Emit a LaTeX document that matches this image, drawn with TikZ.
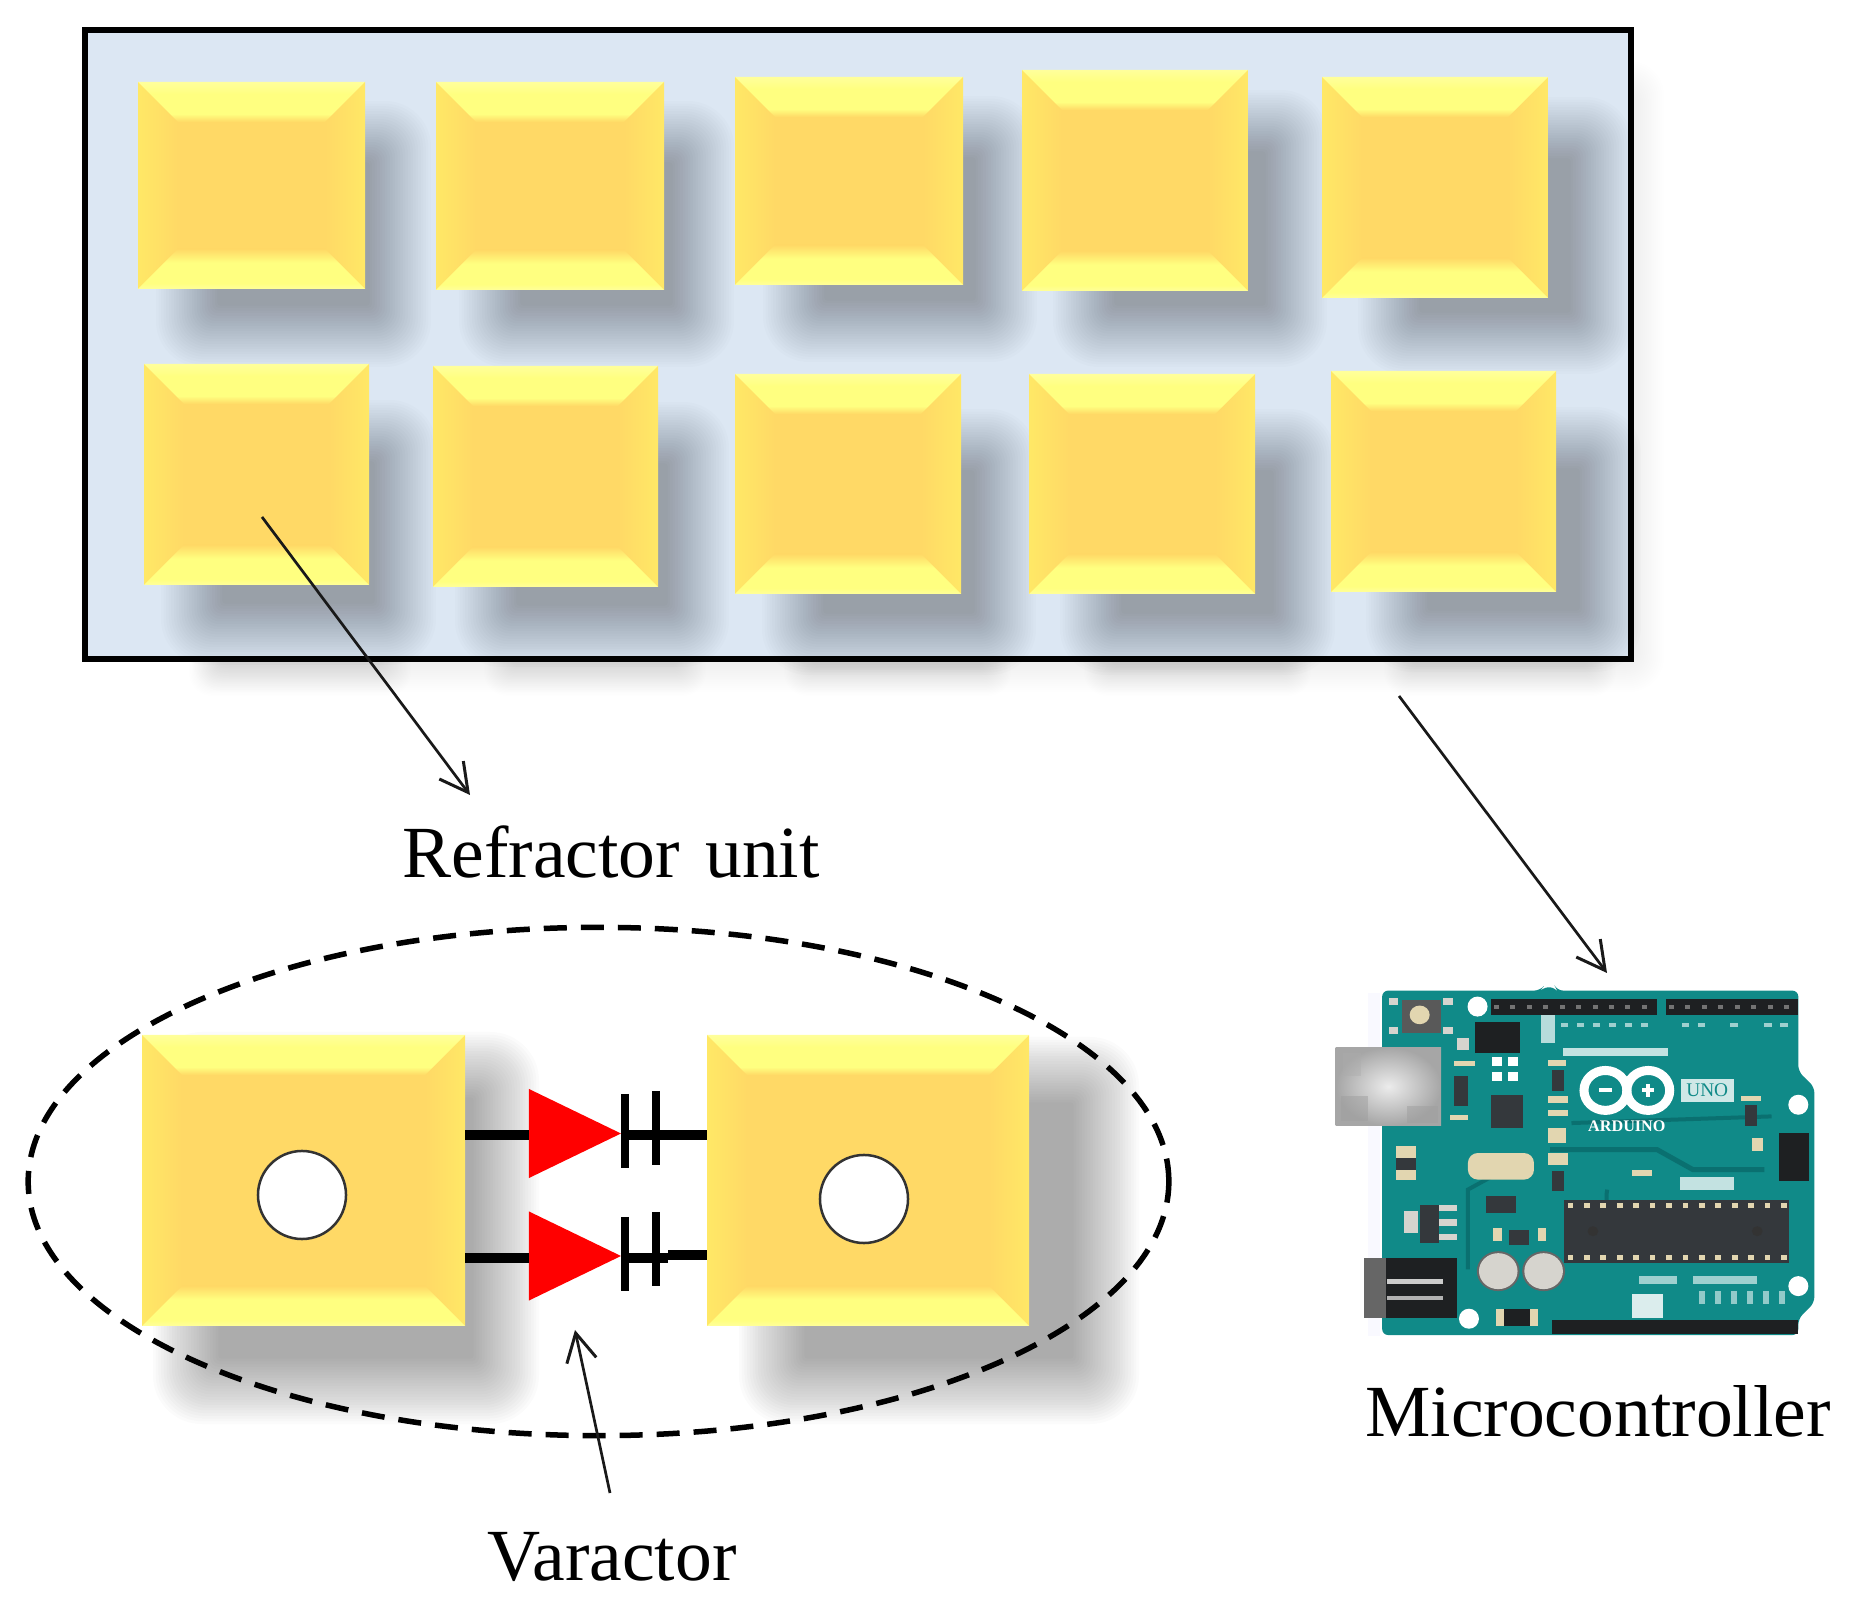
\documentclass[tikz,border=0pt]{standalone}
\usepackage{fontspec}
\setmainfont{Liberation Serif}
\usetikzlibrary{arrows.meta,shapes.geometric}

\definecolor{panelblue}{RGB}{220,231,243}
\definecolor{cellface}{RGB}{255,217,102}
\definecolor{cellside}{RGB}{255,232,102}
\definecolor{celledge}{RGB}{255,255,155}
\definecolor{cellglow}{RGB}{255,255,128}
\definecolor{boardteal}{RGB}{16,138,136}
\definecolor{boarddark}{RGB}{10,112,112}
\definecolor{pinblack}{RGB}{30,32,34}
\definecolor{chipgrey}{RGB}{52,56,60}
\definecolor{partsilver}{RGB}{214,212,206}
\definecolor{parttan}{RGB}{226,214,176}

\pgfdeclareverticalshading{bevelTop}{100bp}{color(0bp)=(cellface); color(25bp)=(cellface); color(35bp)=(cellglow); color(60bp)=(cellglow); color(75bp)=(celledge); color(100bp)=(celledge)}
\pgfdeclareverticalshading{bevelBottom}{100bp}{color(0bp)=(celledge); color(25bp)=(celledge); color(32bp)=(cellglow); color(58bp)=(cellglow); color(75bp)=(cellface); color(100bp)=(cellface)}

\tikzset{
  labeltext/.style={font=\fontsize{20.9pt}{24pt}\selectfont,inner sep=0pt},
  pointer/.style={draw=black!90,line width=0.027cm,-{Straight Barb[length=0.28cm,width=0.3cm,line width=0.03cm]}},
  unitface/.style={fill=cellface,inner sep=0pt,outer sep=0pt},
  hole/.style={circle,draw=black!80,fill=white,line width=0.025cm,minimum size=0.88cm,inner sep=0pt},
  diode/.style={isosceles triangle,isosceles triangle stretches,fill=red,inner sep=0pt,outer sep=0pt,minimum height=0.92cm,minimum width=0.89cm,anchor=apex},
  wire/.style={line width=0.09cm,black},
  plate/.style={line width=0.085cm,black},
  chipfill/.style={fill=chipgrey},
  mounthole/.style={circle,fill=white,inner sep=0pt,minimum size=0.2cm},
}

%Blurred shadow: x0,y0,x1,y1,blur,opacity of one layer
\newcommand{\softshadow}[6]{
  \foreach \b in {-1,-0.92,...,1}{
    \fill[black,opacity=#6,rounded corners={(1-\b)*#5*0.007cm+0.01cm}] ({#1+\b*#5},{#2+\b*#5}) rectangle ({#3-\b*#5},{#4-\b*#5});
  }
}
%Bevelled cell: name,x0,y0,x1,y1
\newcommand{\unitcell}[5]{
  \node (#1) at ({(#2+#4)/2},{(#3+#5)/2}) [unitface,minimum width={(#4-#2)*0.01cm},minimum height={(#5-#3)*0.01cm}] {};
  \shade[left color=cellside,right color=cellface] (#2,#3) -- ({#2+40},{#3+40}) -- ({#2+40},{#5-40}) -- (#2,#5) -- cycle;
  \shade[right color=cellside,left color=cellface] (#4,#3) -- ({#4-40},{#3+40}) -- ({#4-40},{#5-40}) -- (#4,#5) -- cycle;
  \shade[shading=bevelTop] (#2,#3) -- (#4,#3) -- ({#4-40},{#3+40}) -- ({#2+40},{#3+40}) -- cycle;
  \shade[shading=bevelBottom] (#2,#5) -- (#4,#5) -- ({#4-40},{#5-40}) -- ({#2+40},{#5-40}) -- cycle;
}

\begin{document}
\begin{tikzpicture}[x=0.01cm,y=-0.01cm]
\useasboundingbox (0,0) rectangle (1860,1604);

%Panel
\softshadow{215}{85}{1640}{668}{24}{0.0026}
\softshadow{205}{620}{395}{680}{16}{0.002}
\softshadow{500}{620}{690}{680}{16}{0.002}
\softshadow{800}{620}{995}{680}{16}{0.002}
\softshadow{1100}{620}{1295}{680}{16}{0.002}
\softshadow{1400}{620}{1600}{680}{16}{0.002}
\node (panel) at (858,344.5) [fill=panelblue,inner sep=0pt,minimum width=15.46cm,minimum height=6.29cm] {};

%Shadows
\softshadow{188}{133}{399}{335}{32}{0.0132}
\softshadow{491}{133}{702}{335}{32}{0.0132}
\softshadow{795}{128}{1005}{330}{32}{0.0132}
\softshadow{1085}{122}{1295}{335}{32}{0.0132}
\softshadow{1390}{129}{1600}{342}{32}{0.0132}
\softshadow{193}{432}{404}{633}{32}{0.0132}
\softshadow{487}{434}{697}{635}{32}{0.0132}
\softshadow{794}{441}{1004}{643}{32}{0.0132}
\softshadow{1092}{441}{1303}{643}{32}{0.0132}
\softshadow{1398}{439}{1609}{640}{32}{0.0132}

%Cells
\unitcell{unitA}{138}{82}{365}{289}
\unitcell{unitB}{436}{82}{664}{290}
\unitcell{unitC}{735}{77}{963}{285}
\unitcell{unitD}{1022}{70}{1248}{291}
\unitcell{unitE}{1322}{77}{1548}{298}
\unitcell{unitF}{144}{364}{369}{585}
\unitcell{unitG}{433}{366}{658}{587}
\unitcell{unitH}{735}{374}{961}{594}
\unitcell{unitI}{1029}{374}{1255}{594}
\unitcell{unitJ}{1331}{371}{1556}{592}
\node (panelframe) at (858,344.5) [draw=black,line width=0.06cm,inner sep=0pt,minimum width=15.46cm,minimum height=6.29cm] {};

%Zoomed unit
\softshadow{187}{1066}{505}{1390}{34}{0.0142}
\softshadow{773}{1071}{1105}{1390}{34}{0.0142}
\unitcell{cellL}{142}{1035}{465}{1326}
\unitcell{cellR}{707}{1035}{1029}{1326}
\node (holeL) at (302,1195) [hole] {};
\node (holeR) at (864,1199) [hole] {};
\node (ring) at (598.5,1181.5) [ellipse,draw=black,line width=0.055cm,dash pattern=on 0.23cm off 0.14cm,minimum width=11.4cm,minimum height=5.08cm,inner sep=0pt] {};

%Varactors
\node (diodeA) at (621,1133.5) [diode] {};
\node (diodeB) at (621,1256) [diode] {};
\coordinate (plateAa) at (625,1094);
\coordinate (plateAb) at (625,1168);
\coordinate (plateBa) at (656,1091);
\coordinate (plateBb) at (656,1165);
\coordinate (plateCa) at (625,1217);
\coordinate (plateCb) at (625,1291);
\coordinate (plateDa) at (656,1212);
\coordinate (plateDb) at (656,1286);
\coordinate (jogB) at (668,1258);
\coordinate (jogC) at (668,1255);
\draw [wire] (cellL.east |- 0,1135) -- (diodeA.west |- 0,1135);
\draw [wire] (diodeA.east |- 0,1135) -- (cellR.west |- 0,1135);
\draw [wire] (cellL.east |- 0,1258) -- (diodeB.west |- 0,1258);
\draw [wire] (diodeB.east |- 0,1258) -- (jogB);
\draw [wire] (jogC) -- (cellR.west |- 0,1255);
\draw [plate] (plateAa) -- (plateAb);
\draw [plate] (plateBa) -- (plateBb);
\draw [plate] (plateCa) -- (plateCb);
\draw [plate] (plateDa) -- (plateDb);

%Board
\begin{scope}[shift={(1300,950)},x=0.003571cm,y=-0.003333cm]
\fill[blue!30!white,opacity=0.08] (190,130) rectangle (225,1160);
\fill[boardteal,rounded corners=0.06cm] (230,122) -- (672,122) -- (680,112) -- (715,112) -- (720,122) -- (1395,122) -- (1395,365) -- (1440,412) -- (1440,1060) -- (1395,1108) -- (1395,1157) -- (230,1157) -- cycle;
\draw[boarddark,line width=0.05cm] (700,600) -- (1000,600) -- (1100,660) -- (1300,660);
\draw[boarddark,line width=0.04cm] (760,520) -- (1320,500);
\draw[boarddark,line width=0.04cm] (470,960) -- (470,720) -- (640,620);
\draw[boarddark,line width=0.04cm] (860,720) arc (190:110:130);
\fill[gray!70!black] (285,150) rectangle (395,250);
\fill[parttan] (335,195) circle (28);
\fill[partsilver] (248,145) rectangle (275,165);
\fill[partsilver] (400,145) rectangle (428,165);
\fill[partsilver] (248,232) rectangle (275,252);
\fill[partsilver] (400,232) rectangle (428,252);
\node (holeA) at (497,170) [mounthole] {};
\node (holeB) at (1395,465) [mounthole] {};
\node (holeC) at (1395,1010) [mounthole] {};
\node (holeD) at (473,1108) [mounthole] {};
%Headers
\fill[pinblack] (535,148) rectangle (1000,195);
\fill[pinblack] (1025,148) rectangle (1395,195);
\fill[pinblack] (705,1112) rectangle (1395,1155);
\foreach \p in {550,596,...,990,1040,1086,...,1380}{\fill[black!55] (\p-7,165) rectangle (\p+7,178);}
\fill[pinblack] (490,215) rectangle (615,310);
\fill[pinblack] (1340,550) rectangle (1425,695);
\fill[white] (537,322) rectangle (565,348);
\fill[white] (582,322) rectangle (610,348);
\fill[white] (537,368) rectangle (565,394);
\fill[white] (582,368) rectangle (610,394);
\fill[white!70!boardteal] (675,195) rectangle (715,280);
\fill[white!75!boardteal] (735,295) rectangle (1030,318);
\fill[white!75!boardteal] (1065,682) rectangle (1215,720);
\foreach \p in {740,785,830,875,920,965,1080,1125,1215,1310,1355}{\fill[white!60!boardteal] (\p-10,218) rectangle (\p+10,232);}
%USB and jack
\shade[inner color=gray!15,outer color=gray!70] (100,292) rectangle (395,528);
\fill[gray!75,opacity=0.5] (115,440) rectangle (190,515);
\fill[gray!75,opacity=0.5] (300,470) rectangle (385,520);
\fill[gray!65,opacity=0.4] (120,310) rectangle (170,380);
\fill[gray!80!black] (178,925) rectangle (240,1105);
\fill[pinblack] (240,925) rectangle (440,1105);
\fill[gray!40] (243,990) rectangle (400,1005);
\fill[gray!60] (243,1040) rectangle (400,1052);
%Parts
\fill[chipfill] (535,435) rectangle (625,535);
\fill[chipfill] (520,738) rectangle (605,790);
\fill[chipfill] (585,840) rectangle (640,885);
\fill[chipfill] (335,765) rectangle (390,880);
\fill[partsilver] (390,765) rectangle (440,785);
\fill[partsilver] (390,808) rectangle (440,828);
\fill[partsilver] (390,852) rectangle (440,872);
\fill[partsilver] (290,785) rectangle (330,850);
\fill[partsilver] (440,265) rectangle (472,300);
\fill[chipfill] (430,380) rectangle (470,470);
\fill[parttan] (430,335) rectangle (490,350);
\fill[parttan] (420,495) rectangle (470,512);
\fill[chipfill] (705,360) rectangle (740,425);
\fill[parttan] (695,330) rectangle (745,350);
\fill[parttan] (695,440) rectangle (750,460);
\fill[parttan] (695,480) rectangle (750,500);
\fill[parttan] (695,535) rectangle (745,580);
\fill[parttan] (695,610) rectangle (750,645);
\fill[chipfill] (705,665) rectangle (740,725);
\fill[parttan] (1235,438) rectangle (1290,455);
\fill[chipfill] (1245,465) rectangle (1280,530);
\fill[parttan] (1265,565) rectangle (1295,605);
\fill[parttan] (930,660) rectangle (985,680);
\fill[parttan] (270,590) rectangle (325,690);
\fill[chipgrey] (270,625) rectangle (325,660);
\fill[parttan,rounded corners=0.1cm] (470,610) rectangle (655,690);
\fill[parttan] (540,835) rectangle (565,875);
\fill[parttan] (665,835) rectangle (690,875);
%Main chip
\fill[chipfill] (740,750) rectangle (1370,940);
\foreach \p in {757,803,...,1360}{
  \fill[parttan] (\p-8,760) rectangle (\p+8,775);
  \fill[parttan] (\p-8,915) rectangle (\p+8,930);
}
\fill[black!80] (820,845) circle (15);
\fill[black!80] (1280,845) circle (15);
%Capacitors
\fill[black!60] (555,965) circle (60);
\fill[black!60] (682,965) circle (60);
\fill[partsilver] (555,965) circle (54);
\fill[partsilver] (682,965) circle (54);
\fill[pinblack] (550,1078) rectangle (665,1130);
\fill[parttan] (550,1078) rectangle (572,1130);
\fill[parttan] (645,1078) rectangle (665,1130);
\fill[white!85!boardteal] (930,1035) rectangle (1015,1105);
\fill[white!60!boardteal] (950,980) rectangle (1055,1005);
\fill[white!60!boardteal] (1100,980) rectangle (1280,1005);
\foreach \p in {1125,1170,1215,1260,1305,1350}{\fill[white!55!boardteal] (\p-9,1025) rectangle (\p+9,1065);}
%Logo
\draw[white,line width=0.09cm] (855,422) circle (60);
\draw[white,line width=0.09cm] (975,422) circle (60);
\fill[white] (838,416) rectangle (872,428);
\fill[white] (958,416) rectangle (992,428);
\fill[white] (969,402) rectangle (981,442);
\node (brandname) at (915,530) [white,font=\bfseries\fontsize{4.6pt}{5pt}\selectfont,inner sep=0pt] {ARDUINO};
\node (uno) at (1140,422) [fill=white!80!boardteal,text=boardteal,font=\fontsize{5.5pt}{6pt}\selectfont,inner sep=0pt,minimum width=0.53cm,minimum height=0.235cm] {UNO};
\end{scope}

%Names
\node (refractor) at (611,852) [labeltext] {Refractor\hspace{0.07cm} unit};
\node (micro) at (1598,1411) [labeltext] {Microcontroller};
\node (varactor) at (612,1557) [labeltext] {Varactor};

%Arrows
\coordinate (unitTail) at (262,517);
\coordinate (unitTip) at (470,795);
\coordinate (boardTail) at (1399,696);
\coordinate (boardTip) at (1607,973);
\coordinate (varTail) at (610,1493);
\coordinate (varTip) at (575,1330);
\draw [pointer] (unitTail) -- (unitTip);
\draw [pointer] (boardTail) -- (boardTip);
\draw [pointer] (varTail) -- (varTip);

\end{tikzpicture}
\end{document}
